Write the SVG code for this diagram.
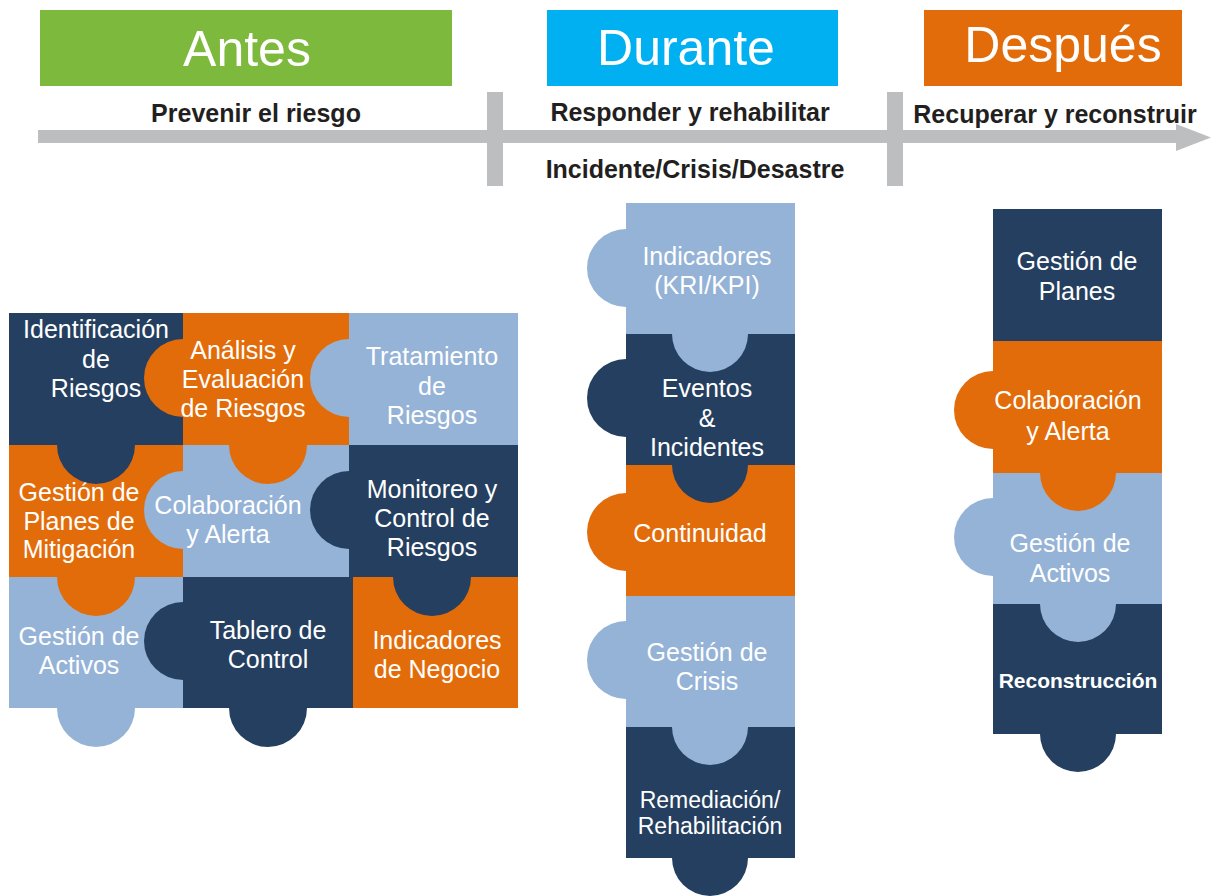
<svg xmlns="http://www.w3.org/2000/svg" width="1211" height="896" viewBox="0 0 1211 896">
<defs>
<style>
.navy{fill:#253F60}
.org{fill:#E36C0A}
.lb{fill:#95B3D7}
.t{font-family:"Liberation Sans",Arial,sans-serif;font-size:25px;fill:#ffffff;text-anchor:middle}
.hd{font-family:"Liberation Sans",Arial,sans-serif;font-size:50px;fill:#ffffff;text-anchor:middle}
.lbl{font-family:"Liberation Sans",Arial,sans-serif;font-size:25px;font-weight:bold;fill:#231F20;text-anchor:middle}
.sep{fill:#BCBEC0}
</style>
</defs>
<rect width="1211" height="896" fill="#ffffff"/>

<g id="phase-antes">
<rect x="40" y="10" width="412" height="76" fill="#7DB93C"/>
<text class="hd" x="247" y="66">Antes</text>
</g>
<g id="phase-durante">
<rect x="547" y="10" width="291" height="76" fill="#00B0F0"/>
<text class="hd" x="686" y="65">Durante</text>
</g>
<g id="phase-despues">
<rect x="924" y="10" width="258" height="76" fill="#E36C0A"/>
<text class="hd" x="1063" y="62">Después</text>
</g>

<g id="timeline">
<rect class="sep" x="38" y="130" width="1140" height="13"/>
<polygon class="sep" points="1176,124 1211,137.5 1176,151"/>
<rect class="sep" x="487" y="92" width="16" height="94"/>
<rect class="sep" x="887" y="92" width="16" height="94"/>
</g>

<g id="labels">
<text class="lbl" x="256" y="122">Prevenir el riesgo</text>
<text class="lbl" x="690" y="121">Responder y rehabilitar</text>
<text class="lbl" x="1055" y="123">Recuperar y reconstruir</text>
<text class="lbl" x="695" y="178">Incidente/Crisis/Desastre</text>
</g>

<!-- Left grid (Antes) -->
<g id="gestion-activos-a" class="lb">
<rect x="9" y="577" width="175" height="131"/>
<circle cx="96" cy="708" r="39"/>
<text class="t" x="79" y="645">Gestión de</text>
<text class="t" x="79" y="674">Activos</text>
</g>
<g id="tablero-control" class="navy">
<rect x="183" y="577" width="170" height="131"/>
<circle cx="183" cy="641" r="39"/>
<circle cx="268" cy="708" r="39"/>
<text class="t" x="268" y="639">Tablero de</text>
<text class="t" x="268" y="668">Control</text>
</g>
<g id="indicadores-negocio" class="org">
<rect x="353" y="577" width="165" height="131"/>
<text class="t" x="437" y="649">Indicadores</text>
<text class="t" x="437" y="678">de Negocio</text>
</g>
<g id="gestion-planes-mitigacion" class="org">
<rect x="9" y="445" width="174" height="132"/>
<circle cx="96" cy="577" r="39"/>
<text class="t" x="79" y="501">Gestión de</text>
<text class="t" x="79" y="530">Planes de</text>
<text class="t" x="79" y="558">Mitigación</text>
</g>
<g id="colaboracion-alerta-a" class="lb">
<rect x="183" y="445" width="166" height="132"/>
<circle cx="183" cy="510" r="39"/>
<text class="t" x="228" y="514">Colaboración</text>
<text class="t" x="228" y="543">y Alerta</text>
</g>
<g id="monitoreo-control" class="navy">
<rect x="349" y="445" width="169" height="132"/>
<circle cx="349" cy="510" r="39"/>
<circle cx="432" cy="577" r="39"/>
<text class="t" x="432" y="498">Monitoreo y</text>
<text class="t" x="432" y="527">Control de</text>
<text class="t" x="432" y="556">Riesgos</text>
</g>
<g id="identificacion-riesgos" class="navy">
<rect x="9" y="313" width="174" height="132"/>
<circle cx="96" cy="445" r="39"/>
<text class="t" x="96" y="338">Identificación</text>
<text class="t" x="96" y="368">de</text>
<text class="t" x="96" y="397">Riesgos</text>
</g>
<g id="analisis-evaluacion" class="org">
<rect x="183" y="313" width="166" height="132"/>
<circle cx="183" cy="378" r="39"/>
<circle cx="268" cy="445" r="39"/>
<text class="t" x="243" y="359">Análisis y</text>
<text class="t" x="243" y="388">Evaluación</text>
<text class="t" x="243" y="417">de Riesgos</text>
</g>
<g id="tratamiento-riesgos" class="lb">
<rect x="349" y="313" width="169" height="132"/>
<circle cx="349" cy="378" r="39"/>
<text class="t" x="432" y="365">Tratamiento</text>
<text class="t" x="432" y="395">de</text>
<text class="t" x="432" y="424">Riesgos</text>
</g>

<!-- Middle column (Durante) -->
<g id="remediacion" class="navy">
<rect x="626" y="727" width="169" height="131"/>
<circle cx="710" cy="858" r="38"/>
<text class="t" x="710" y="808" style="font-size:23px">Remediación/</text>
<text class="t" x="710" y="834" style="font-size:23px">Rehabilitación</text>
</g>
<g id="gestion-crisis" class="lb">
<rect x="626" y="596" width="169" height="131"/>
<circle cx="626" cy="660" r="39"/>
<circle cx="710" cy="727" r="38"/>
<text class="t" x="707" y="661">Gestión de</text>
<text class="t" x="707" y="690">Crisis</text>
</g>
<g id="continuidad" class="org">
<rect x="626" y="465" width="169" height="131"/>
<circle cx="626" cy="532" r="39"/>
<text class="t" x="700" y="542">Continuidad</text>
</g>
<g id="eventos-incidentes" class="navy">
<rect x="626" y="334" width="169" height="131"/>
<circle cx="626" cy="398" r="39"/>
<circle cx="710" cy="465" r="38"/>
<text class="t" x="707" y="397">Eventos</text>
<text class="t" x="707" y="427">&amp;</text>
<text class="t" x="707" y="456">Incidentes</text>
</g>
<g id="indicadores-kri" class="lb">
<rect x="626" y="203" width="169" height="131"/>
<circle cx="626" cy="268" r="39"/>
<circle cx="710" cy="334" r="38"/>
<text class="t" x="707" y="265">Indicadores</text>
<text class="t" x="707" y="294">(KRI/KPI)</text>
</g>

<!-- Right column (Después) -->
<g id="reconstruccion" class="navy">
<rect x="993" y="604" width="169" height="130"/>
<circle cx="1078" cy="734" r="38"/>
<text class="t" x="1078" y="688" style="font-size:21px;font-weight:bold">Reconstrucción</text>
</g>
<g id="gestion-activos-d" class="lb">
<rect x="993" y="473" width="169" height="131"/>
<circle cx="993" cy="537" r="39"/>
<circle cx="1078" cy="604" r="38"/>
<text class="t" x="1070" y="552">Gestión de</text>
<text class="t" x="1070" y="582">Activos</text>
</g>
<g id="colaboracion-alerta-d" class="org">
<rect x="993" y="341" width="169" height="132"/>
<circle cx="993" cy="410" r="39"/>
<circle cx="1078" cy="473" r="38"/>
<text class="t" x="1068" y="409">Colaboración</text>
<text class="t" x="1068" y="440">y Alerta</text>
</g>
<g id="gestion-planes" class="navy">
<rect x="993" y="209" width="169" height="132"/>
<text class="t" x="1077" y="270">Gestión de</text>
<text class="t" x="1077" y="300">Planes</text>
</g>
</svg>
